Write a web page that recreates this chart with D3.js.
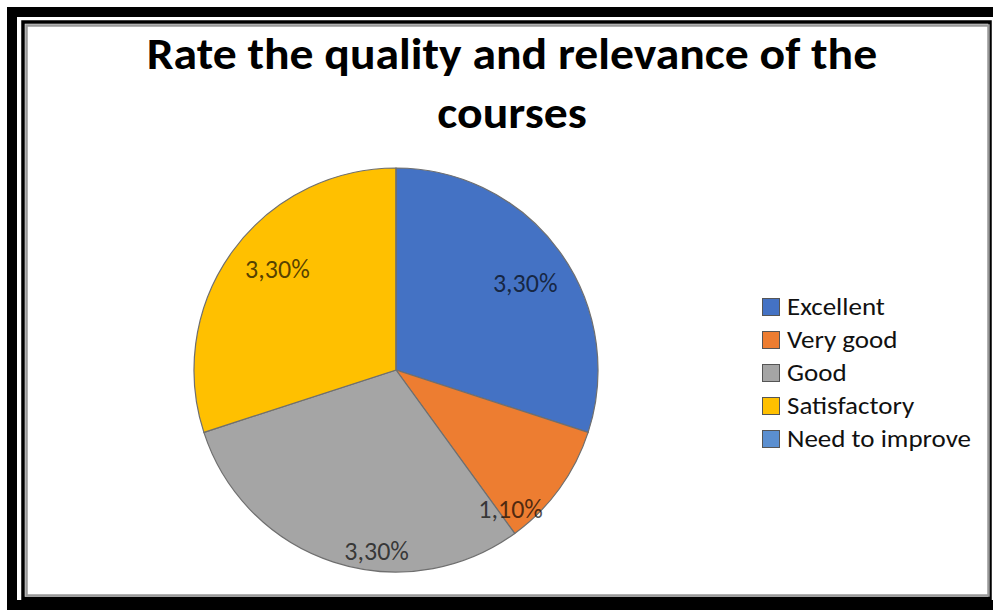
<!DOCTYPE html>
<html><head><meta charset="utf-8">
<script src="https://cdn.jsdelivr.net/npm/d3@7"></script>
<style>body{margin:0;background:#fff}svg{display:block}</style>
</head><body>
<svg id="c" width="993" height="610"></svg>
<script>
const categories = ["Excellent","Very good","Good","Satisfactory","Need to improve"];
const values = [3.3, 1.1, 3.3, 3.3, 0];
const labels = ["3,30%","1,10%","3,30%","3,30%",""];
const colors = ["#4472C4","#ED7D31","#A5A5A5","#FFC000","#5B8FD0"];
const titleLines = ["Rate the quality and relevance of the","courses"];

const svg = d3.select("#c");
const W = 993, H = 610;
svg.append("rect").attr("width",W).attr("height",H).attr("fill","#fff");
svg.append("rect").attr("x",12).attr("y",12).attr("width",W+10).attr("height",H-17)
  .attr("fill","none").attr("stroke","#000").attr("stroke-width",10);
svg.append("rect").attr("x",23).attr("y",22).attr("width",967).attr("height",576.5)
  .attr("fill","none").attr("stroke","#000").attr("stroke-width",3.5);
svg.append("rect").attr("x",26.5).attr("y",25.5).attr("width",962).attr("height",570)
  .attr("fill","none").attr("stroke","#999").attr("stroke-width",2.5);

const font = "Carlito, Calibri, 'Open Sans', sans-serif";
svg.selectAll("text.title").data(titleLines).join("text").attr("class","title")
  .attr("transform",(d,i)=>`translate(512,${69+i*59}) scale(1.06,1)`)
  .attr("text-anchor","middle")
  .attr("font-family",font).attr("font-weight",700).attr("font-size",45)
  .attr("fill","#000").text(d=>d);

const cx = 396, cy = 370, r = 202;
const pie = d3.pie().sort(null).value(d=>d.v);
const data = pie(categories.map((c,i)=>({c, v:values[i], l:labels[i], col:colors[i]})));
const arc = d3.arc().innerRadius(0).outerRadius(r);
const g = svg.append("g").attr("transform",`translate(${cx},${cy})`);
g.selectAll("path").data(data).join("path").attr("d",arc)
  .attr("fill",d=>d.data.col).attr("stroke","#6f6f6f").attr("stroke-width",1.2);
// best-fit style label placement (angle fraction within slice, radius fraction)
const labelFit = {"Excellent":[0.52,0.77],"Very good":[0.9,0.89],"Good":[0.39,0.9],"Satisfactory":[0.54,0.77]};
g.selectAll("text").data(data.filter(d=>d.data.l)).join("text")
  .attr("transform",d=>{
    const f = labelFit[d.data.c];
    const a = d.startAngle + (d.endAngle-d.startAngle)*f[0];
    const rr = r*f[1];
    return `translate(${Math.sin(a)*rr},${-Math.cos(a)*rr})`;})
  .attr("text-anchor","middle").attr("dy","0.35em")
  .attr("font-family",font).attr("font-size",26).attr("fill","#000").attr("fill-opacity",0.68)
  .text(d=>d.data.l);

const leg = svg.append("g").attr("transform","translate(762,306.5)");
const row = leg.selectAll("g").data(categories).join("g").attr("transform",(d,i)=>`translate(0,${i*33})`);
row.append("rect").attr("x",0.5).attr("y",-8).attr("width",17).attr("height",17)
  .attr("fill",(d,i)=>colors[i]).attr("stroke","#555").attr("stroke-width",1);
row.append("text").attr("transform","translate(25,0) scale(1.08,1)").attr("dy","0.35em")
  .attr("font-family",font).attr("font-size",25).attr("fill","#111").text(d=>d);
</script>
</body></html>
